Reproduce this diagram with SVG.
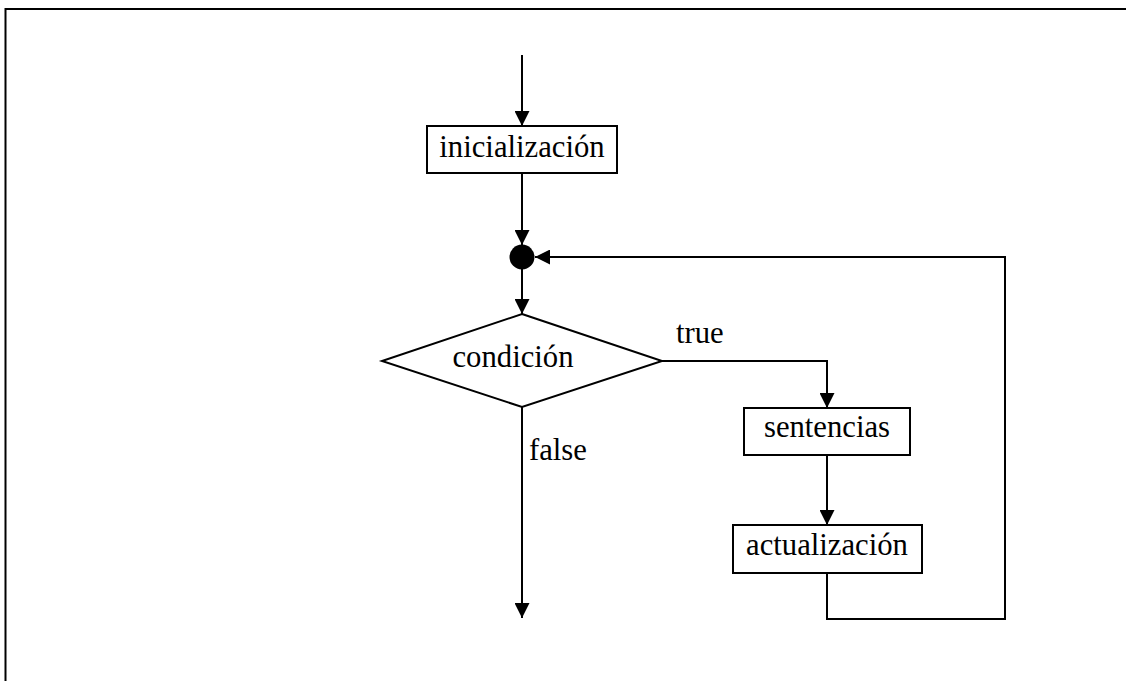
<svg xmlns="http://www.w3.org/2000/svg" width="1126" height="681" viewBox="0 0 1126 681">
  <defs>
    <marker id="arrow" viewBox="0 0 15 15" refX="15" refY="7.5" markerWidth="15" markerHeight="15" markerUnits="userSpaceOnUse" orient="auto">
      <path d="M0,0 L15,7.5 L0,15 Z" fill="#000"/>
    </marker>
  </defs>
  <style>
    .box { fill: #fff; stroke: #000; stroke-width: 2; }
    text { font-family: 'Liberation Serif', 'DejaVu Serif', serif; font-size: 30.7px; fill: #000; }
    .edge { fill: none; stroke: #000; stroke-width: 2; }
  </style>
  <rect width="1126" height="681" fill="#fff"/>
  <!-- outer frame, open to the right and bottom -->
  <path d="M5.5,681 L5.5,9 L1126,9" fill="none" stroke="#000" stroke-width="2"/>

  <g id="connectors">
    <path class="edge" d="M522,55 L522,126" marker-end="url(#arrow)"/>
    <path class="edge" d="M522,173 L522,245" marker-end="url(#arrow)"/>
    <path class="edge" d="M522,269 L522,314" marker-end="url(#arrow)"/>
    <path class="edge" d="M522,407 L522,618" marker-end="url(#arrow)"/>
    <path class="edge" d="M662,361 L827,361 L827,408" marker-end="url(#arrow)"/>
    <path class="edge" d="M827,455 L827,525" marker-end="url(#arrow)"/>
    <path class="edge" d="M827,573 L827,619 L1005,619 L1005,257 L535,257" marker-end="url(#arrow)"/>
  </g>

  <g id="init">
    <rect class="box" x="427" y="126" width="190" height="47"/>
    <text font-family="Liberation Serif, serif" x="522" y="157" text-anchor="middle">inicialización</text>
  </g>

  <g id="junction">
    <circle cx="522" cy="257" r="12.5" fill="#000"/>
  </g>

  <g id="cond">
    <polygon class="box" points="522,314 662,361 522,407 382,361"/>
    <text font-family="Liberation Serif, serif" x="513" y="367" text-anchor="middle">condición</text>
  </g>

  <g id="true-label">
    <text font-family="Liberation Serif, serif" x="676" y="343">true</text>
  </g>

  <g id="false-label">
    <text font-family="Liberation Serif, serif" x="529" y="460">false</text>
  </g>

  <g id="sentencias">
    <rect class="box" x="744" y="408" width="166" height="47"/>
    <text font-family="Liberation Serif, serif" x="827" y="437" text-anchor="middle">sentencias</text>
  </g>

  <g id="actualizacion">
    <rect class="box" x="733" y="525" width="189" height="48"/>
    <text font-family="Liberation Serif, serif" x="827" y="555" text-anchor="middle">actualización</text>
  </g>
</svg>
